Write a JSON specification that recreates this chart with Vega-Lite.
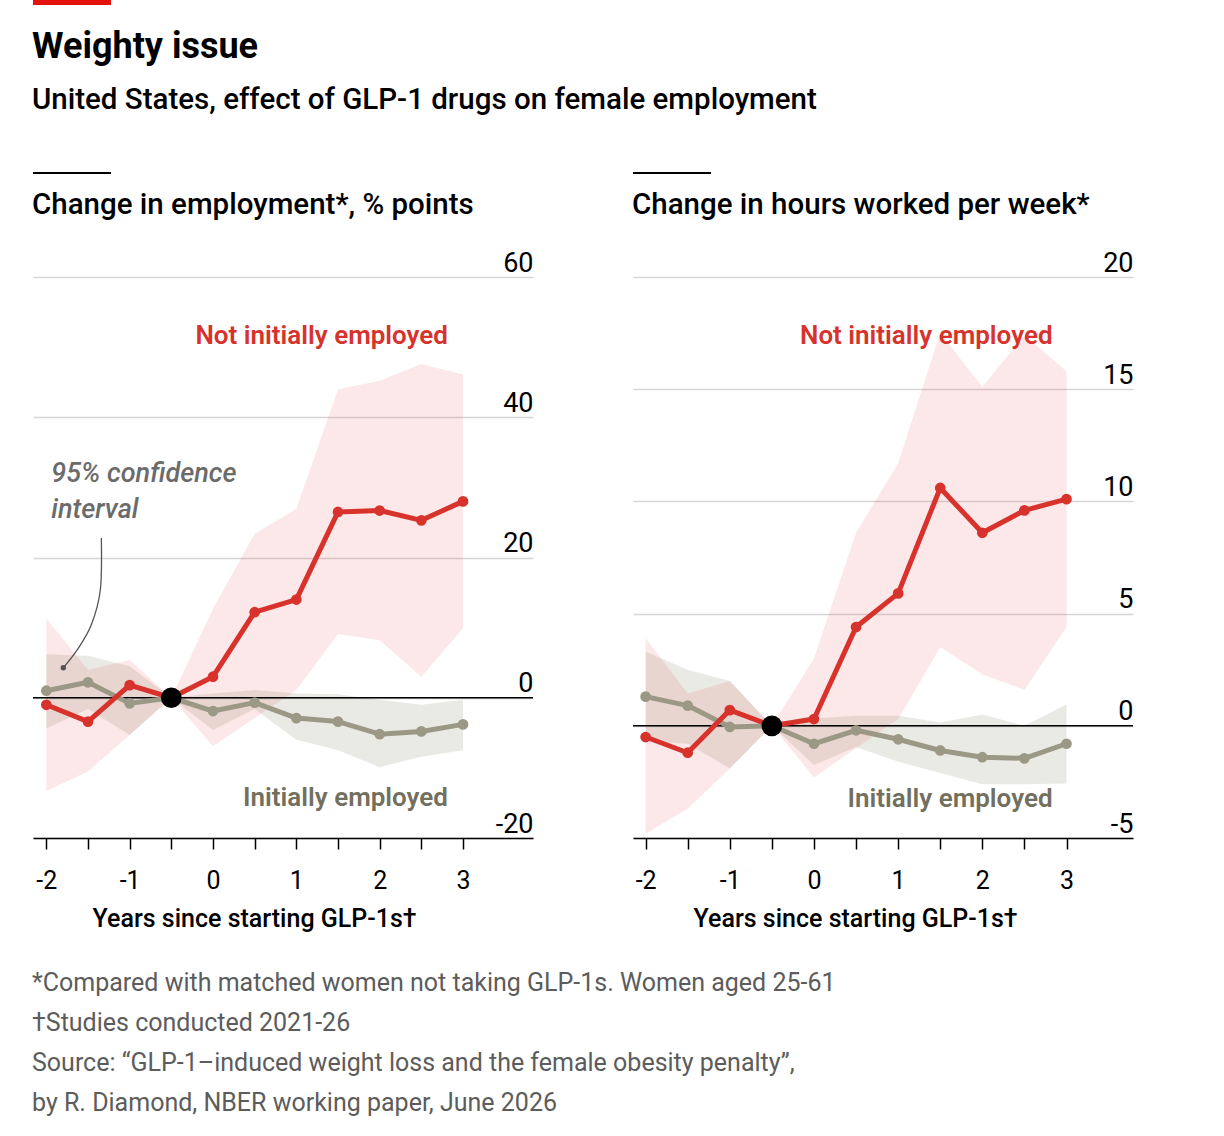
{
  "$schema": "https://vega.github.io/schema/vega-lite/v6.json",
  "background": "white",
  "padding": {"left": 32, "top": 0, "right": 10, "bottom": 10},
  "spacing": 23,
  "datasets": {
    "emp": [
      {"g": "Initially employed", "x": -2, "y": 1.0, "lo": -4.4, "hi": 6.2},
      {"g": "Initially employed", "x": -1.5, "y": 2.2, "lo": -1.6, "hi": 6.0},
      {"g": "Initially employed", "x": -1, "y": -0.8, "lo": -5.3, "hi": 4.5},
      {"g": "Initially employed", "x": -0.5, "y": 0, "lo": 0, "hi": 0},
      {"g": "Initially employed", "x": 0, "y": -1.9, "lo": -4.6, "hi": 0.6},
      {"g": "Initially employed", "x": 0.5, "y": -0.7, "lo": -1.6, "hi": 1.1},
      {"g": "Initially employed", "x": 1, "y": -2.9, "lo": -6.0, "hi": 0.6},
      {"g": "Initially employed", "x": 1.5, "y": -3.4, "lo": -7.5, "hi": 0.5},
      {"g": "Initially employed", "x": 2, "y": -5.2, "lo": -9.9, "hi": -0.3},
      {"g": "Initially employed", "x": 2.5, "y": -4.8, "lo": -8.4, "hi": -1.0},
      {"g": "Initially employed", "x": 3, "y": -3.8, "lo": -7.5, "hi": -0.3},
      {"g": "Not initially employed", "x": -2, "y": -1.0, "lo": -13.3, "hi": 11.3},
      {"g": "Not initially employed", "x": -1.5, "y": -3.4, "lo": -10.5, "hi": 4.0},
      {"g": "Not initially employed", "x": -1, "y": 1.8, "lo": -5.3, "hi": 5.4},
      {"g": "Not initially employed", "x": -0.5, "y": 0, "lo": 0, "hi": 0},
      {"g": "Not initially employed", "x": 0, "y": 3.0, "lo": -6.9, "hi": 12.7},
      {"g": "Not initially employed", "x": 0.5, "y": 12.2, "lo": -2.9, "hi": 23.4},
      {"g": "Not initially employed", "x": 1, "y": 14.0, "lo": 1.1, "hi": 26.9},
      {"g": "Not initially employed", "x": 1.5, "y": 26.5, "lo": 9.1, "hi": 44.0},
      {"g": "Not initially employed", "x": 2, "y": 26.7, "lo": 8.2, "hi": 45.2},
      {"g": "Not initially employed", "x": 2.5, "y": 25.3, "lo": 3.0, "hi": 47.6},
      {"g": "Not initially employed", "x": 3, "y": 28.0, "lo": 9.9, "hi": 46.1}
    ],
    "hours": [
      {"g": "Initially employed", "x": -2, "y": 1.3, "lo": -0.7, "hi": 3.3},
      {"g": "Initially employed", "x": -1.5, "y": 0.9, "lo": -0.8, "hi": 2.5},
      {"g": "Initially employed", "x": -1, "y": -0.05, "lo": -1.9, "hi": 2.0},
      {"g": "Initially employed", "x": -0.5, "y": 0, "lo": 0, "hi": 0},
      {"g": "Initially employed", "x": 0, "y": -0.8, "lo": -1.75, "hi": 0.33},
      {"g": "Initially employed", "x": 0.5, "y": -0.2, "lo": -0.94, "hi": 0.45},
      {"g": "Initially employed", "x": 1, "y": -0.6, "lo": -1.6, "hi": 0.45},
      {"g": "Initially employed", "x": 1.5, "y": -1.1, "lo": -2.1, "hi": 0.15},
      {"g": "Initially employed", "x": 2, "y": -1.4, "lo": -2.6, "hi": 0.5},
      {"g": "Initially employed", "x": 2.5, "y": -1.45, "lo": -2.6, "hi": 0.0},
      {"g": "Initially employed", "x": 3, "y": -0.8, "lo": -2.57, "hi": 0.95},
      {"g": "Not initially employed", "x": -2, "y": -0.5, "lo": -4.8, "hi": 3.9},
      {"g": "Not initially employed", "x": -1.5, "y": -1.2, "lo": -3.7, "hi": 1.44},
      {"g": "Not initially employed", "x": -1, "y": 0.7, "lo": -1.9, "hi": 2.0},
      {"g": "Not initially employed", "x": -0.5, "y": 0, "lo": 0, "hi": 0},
      {"g": "Not initially employed", "x": 0, "y": 0.3, "lo": -2.3, "hi": 3.0},
      {"g": "Not initially employed", "x": 0.5, "y": 4.4, "lo": -1.0, "hi": 8.6},
      {"g": "Not initially employed", "x": 1, "y": 5.9, "lo": 0.3, "hi": 11.7},
      {"g": "Not initially employed", "x": 1.5, "y": 10.6, "lo": 3.5, "hi": 17.5},
      {"g": "Not initially employed", "x": 2, "y": 8.6, "lo": 2.3, "hi": 15.1},
      {"g": "Not initially employed", "x": 2.5, "y": 9.6, "lo": 1.6, "hi": 17.4},
      {"g": "Not initially employed", "x": 3, "y": 10.1, "lo": 4.4, "hi": 15.8}
    ]
  },
  "vconcat": [
    {
      "width": 78,
      "height": 5,
      "data": {"values": [{}]},
      "mark": {"type": "rect", "color": "#e3120b"}
    },
    {
      "title": {
        "text": "Weighty issue",
        "subtitle": "United States, effect of GLP-1 drugs on female employment",
        "anchor": "start",
        "font": "Roboto",
        "fontSize": 36,
        "fontWeight": 700,
        "color": "black",
        "subtitleFont": "Roboto",
        "subtitleFontSize": 29.5,
        "subtitleFontWeight": 500,
        "subtitleColor": "black",
        "subtitlePadding": 20,
        "offset": 57
      },
      "vconcat": [
        {
          "title": {
            "text": [
              "*Compared with matched women not taking GLP-1s. Women aged 25-61",
              "†Studies conducted 2021-26",
              "Source: “GLP-1–induced weight loss and the female obesity penalty”,",
              "by R. Diamond, NBER working paper, June 2026"
            ],
            "orient": "bottom",
            "anchor": "start",
            "font": "Roboto",
            "fontSize": 25,
            "fontWeight": 400,
            "color": "#5c5c5c",
            "lineHeight": 40,
            "offset": 40
          },
          "spacing": 98,
          "hconcat": [
            {
              "width": 500,
              "height": 561,
              "title": {"text": "Change in employment*, % points"},
              "layer": [
                {
                  "data": {"name": "emp"},
                  "mark": {"type": "area"},
                  "encoding": {
                    "x": {"field": "x", "type": "quantitative", "scale": {"domain": [-2.16, 3.84], "nice": false, "zero": false},
                      "axis": {"values": [-2, -1.5, -1, -0.5, 0, 0.5, 1, 1.5, 2, 2.5, 3], "labelExpr": "datum.value % 1 === 0 ? toString(datum.value) : ''", "title": "Years since starting GLP-1s†", "titleX": 221}},
                    "y": {"field": "lo", "type": "quantitative", "scale": {"domain": [-20, 60], "nice": false, "zero": false},
                      "axis": {"values": [-20, 0, 20, 40, 60]}},
                    "y2": {"field": "hi"},
                    "fill": {"field": "g", "type": "nominal", "legend": null,
                      "scale": {"domain": ["Not initially employed", "Initially employed"], "range": ["rgba(222,30,25,0.1)", "rgba(150,150,125,0.2)"]}}
                  }
                },
                {
                  "data": {"values": [{}]},
                  "mark": {"type": "rule", "color": "black", "strokeWidth": 1.5},
                  "encoding": {"y": {"datum": 0}}
                },
                {
                  "data": {"values": [{}]},
                  "mark": {"type": "rule", "color": "black", "strokeWidth": 2},
                  "encoding": {"x": {"datum": -2.16}, "x2": {"datum": -1.224}, "y": {"datum": 74.83}}
                },
                {
                  "data": {"name": "emp"},
                  "mark": {"type": "line", "strokeWidth": 5, "strokeJoin": "round"},
                  "encoding": {
                    "x": {"field": "x", "type": "quantitative"},
                    "y": {"field": "y", "type": "quantitative"},
                    "color": {"field": "g", "type": "nominal", "legend": null,
                      "scale": {"domain": ["Not initially employed", "Initially employed"], "range": ["#d7322b", "#9c9886"]}}
                  }
                },
                {
                  "data": {"name": "emp"},
                  "mark": {"type": "point", "filled": true, "size": 115, "opacity": 1},
                  "encoding": {
                    "x": {"field": "x", "type": "quantitative"},
                    "y": {"field": "y", "type": "quantitative"},
                    "color": {"field": "g", "type": "nominal", "legend": null}
                  }
                },
                {
                  "data": {"values": [{"x": -0.5, "y": 0}]},
                  "mark": {"type": "point", "filled": true, "size": 430, "color": "black", "opacity": 1},
                  "encoding": {
                    "x": {"field": "x", "type": "quantitative"},
                    "y": {"field": "y", "type": "quantitative"}
                  }
                },
                {
                  "data": {"values": [
                    {"x": 2.82, "y": 50.4, "g": "Not initially employed"},
                    {"x": 2.82, "y": -15.5, "g": "Initially employed"}
                  ]},
                  "mark": {"type": "text", "align": "right", "baseline": "alphabetic", "fontSize": 26, "fontWeight": 600, "font": "Roboto"},
                  "encoding": {
                    "x": {"field": "x", "type": "quantitative"},
                    "y": {"field": "y", "type": "quantitative"},
                    "text": {"field": "g"},
                    "color": {"condition": {"test": "datum.g === 'Initially employed'", "value": "#736f5f"}, "value": "#d7322b"}
                  }
                },
                {
                  "data": {"values": [{"x": -1.94, "y": 30.8, "t": "95% confidence\ninterval"}]},
                  "mark": {"type": "text", "align": "left", "baseline": "alphabetic", "fontSize": 27, "fontStyle": "italic", "fontWeight": 500, "font": "Roboto", "color": "#6b6b6b", "lineBreak": "\n", "lineHeight": 36},
                  "encoding": {
                    "x": {"field": "x", "type": "quantitative"},
                    "y": {"field": "y", "type": "quantitative"},
                    "text": {"field": "t"}
                  }
                },
                {
                  "data": {"values": [
                    {"i": 0, "x": -1.34, "y": 22.8},
                    {"i": 1, "x": -1.352, "y": 15.4},
                    {"i": 2, "x": -1.46, "y": 10.4},
                    {"i": 3, "x": -1.628, "y": 6.85},
                    {"i": 4, "x": -1.796, "y": 4.28}
                  ]},
                  "mark": {"type": "line", "interpolate": "cardinal", "color": "#555555", "strokeWidth": 1.3},
                  "encoding": {
                    "x": {"field": "x", "type": "quantitative"},
                    "y": {"field": "y", "type": "quantitative"},
                    "order": {"field": "i"}
                  }
                },
                {
                  "data": {"values": [{"x": -1.796, "y": 4.28}]},
                  "mark": {"type": "point", "filled": true, "size": 30, "color": "#555555", "opacity": 1},
                  "encoding": {
                    "x": {"field": "x", "type": "quantitative"},
                    "y": {"field": "y", "type": "quantitative"}
                  }
                }
              ]
            },
            {
              "width": 500,
              "height": 561,
              "title": {"text": "Change in hours worked per week*"},
              "layer": [
                {
                  "data": {"name": "hours"},
                  "mark": {"type": "area"},
                  "encoding": {
                    "x": {"field": "x", "type": "quantitative", "scale": {"domain": [-2.15, 3.79], "nice": false, "zero": false},
                      "axis": {"values": [-2, -1.5, -1, -0.5, 0, 0.5, 1, 1.5, 2, 2.5, 3], "labelExpr": "datum.value % 1 === 0 ? toString(datum.value) : ''", "title": "Years since starting GLP-1s†", "titleX": 222}},
                    "y": {"field": "lo", "type": "quantitative", "scale": {"domain": [-5, 20], "nice": false, "zero": false},
                      "axis": {"values": [-5, 0, 5, 10, 15, 20]}},
                    "y2": {"field": "hi"},
                    "fill": {"field": "g", "type": "nominal", "legend": null,
                      "scale": {"domain": ["Not initially employed", "Initially employed"], "range": ["rgba(222,30,25,0.1)", "rgba(150,150,125,0.2)"]}}
                  }
                },
                {
                  "data": {"values": [{}]},
                  "mark": {"type": "rule", "color": "black", "strokeWidth": 1.5},
                  "encoding": {"y": {"datum": 0}}
                },
                {
                  "data": {"values": [{}]},
                  "mark": {"type": "rule", "color": "black", "strokeWidth": 2},
                  "encoding": {"x": {"datum": -2.15}, "x2": {"datum": -1.224}, "y": {"datum": 24.63}}
                },
                {
                  "data": {"name": "hours"},
                  "mark": {"type": "line", "strokeWidth": 5, "strokeJoin": "round"},
                  "encoding": {
                    "x": {"field": "x", "type": "quantitative"},
                    "y": {"field": "y", "type": "quantitative"},
                    "color": {"field": "g", "type": "nominal", "legend": null,
                      "scale": {"domain": ["Not initially employed", "Initially employed"], "range": ["#d7322b", "#9c9886"]}}
                  }
                },
                {
                  "data": {"name": "hours"},
                  "mark": {"type": "point", "filled": true, "size": 115, "opacity": 1},
                  "encoding": {
                    "x": {"field": "x", "type": "quantitative"},
                    "y": {"field": "y", "type": "quantitative"},
                    "color": {"field": "g", "type": "nominal", "legend": null}
                  }
                },
                {
                  "data": {"values": [{"x": -0.5, "y": 0}]},
                  "mark": {"type": "point", "filled": true, "size": 430, "color": "black", "opacity": 1},
                  "encoding": {
                    "x": {"field": "x", "type": "quantitative"},
                    "y": {"field": "y", "type": "quantitative"}
                  }
                },
                {
                  "data": {"values": [
                    {"x": 2.834, "y": 17.0, "g": "Not initially employed"},
                    {"x": 2.834, "y": -3.6, "g": "Initially employed"}
                  ]},
                  "mark": {"type": "text", "align": "right", "baseline": "alphabetic", "fontSize": 26, "fontWeight": 600, "font": "Roboto"},
                  "encoding": {
                    "x": {"field": "x", "type": "quantitative"},
                    "y": {"field": "y", "type": "quantitative"},
                    "text": {"field": "g"},
                    "color": {"condition": {"test": "datum.g === 'Initially employed'", "value": "#736f5f"}, "value": "#d7322b"}
                  }
                }
              ]
            }
          ]
        }
      ]
    }
  ],
  "config": {
    "font": "Roboto",
    "view": {"stroke": null},
    "title": {"anchor": "start", "fontSize": 29.5, "fontWeight": 500, "color": "black", "offset": -48},
    "axisX": {
      "grid": false,
      "domainColor": "black",
      "domainWidth": 1.5,
      "tickColor": "black",
      "tickWidth": 1.5,
      "tickSize": 11,
      "labelFontSize": 25,
      "labelColor": "black",
      "labelPadding": 19,
      "labelFlush": false,
      "titleFontSize": 25,
      "titleFontWeight": 500,
      "titleColor": "black",
      "titlePadding": 13,
      "titleAlign": "center"
    },
    "axisY": {
      "orient": "right",
      "grid": true,
      "gridColor": "#d6d6d6",
      "gridWidth": 1.5,
      "domain": false,
      "ticks": false,
      "tickSize": 0,
      "labelAlign": "right",
      "labelBaseline": "bottom",
      "labelPadding": 0,
      "labelDx": -4,
      "labelDy": -8,
      "labelFontSize": 27,
      "labelColor": "black",
      "labelFlush": false,
      "labelExpr": "toString(datum.value)",
      "title": null
    }
  }
}
